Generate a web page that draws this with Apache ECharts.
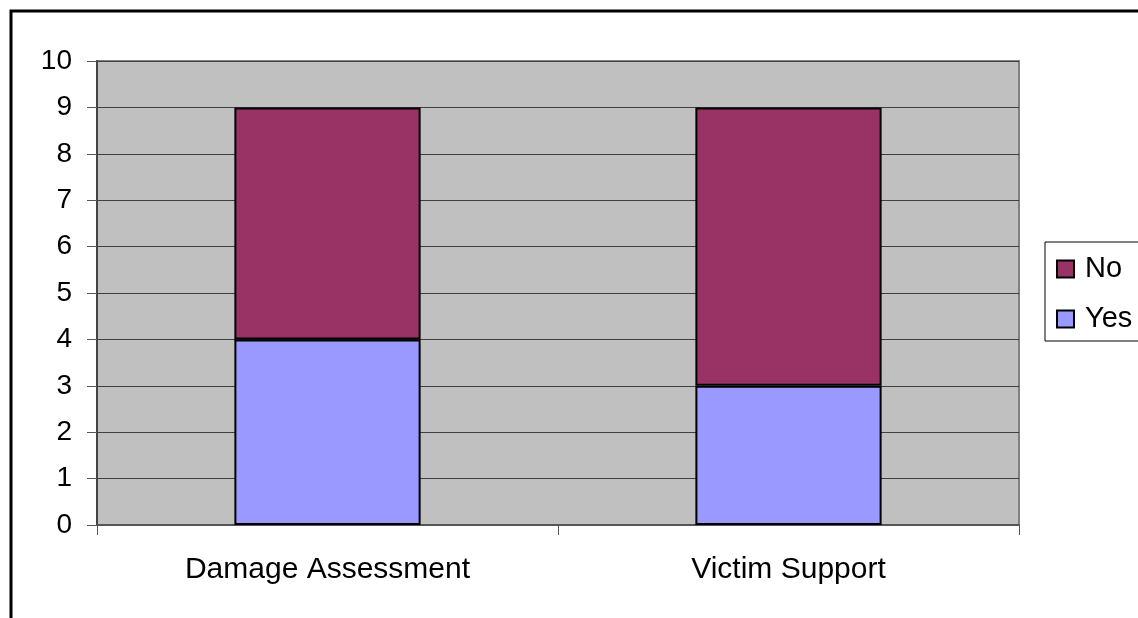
<!DOCTYPE html>
<html>
<head>
<meta charset="utf-8">
<style>
  html, body { margin: 0; padding: 0; background: #fff; }
  #chart { width: 1138px; height: 618px; }
</style>
<script src="https://cdn.jsdelivr.net/npm/echarts@6/dist/echarts.min.js"></script>
</head>
<body>
<div id="chart"></div>
<script>
// Survey responses per function
const categories = ['Damage Assessment', 'Victim Support'];
const yesValues = [4, 3];
const noValues = [5, 6];
const yTicks = { min: 0, max: 10, interval: 1 };

const chart = echarts.init(document.getElementById('chart'), null, { renderer: 'canvas' });
const font = '"Liberation Sans", Arial, sans-serif';

chart.setOption({
  animation: false,
  backgroundColor: '#ffffff',
  textStyle: { fontFamily: font },
  graphic: [{
    type: 'rect',
    shape: { x: 11, y: 11, width: 1300, height: 800 },
    style: { fill: 'none', stroke: '#000', lineWidth: 3 },
    z: 100,
    silent: true
  }],
  grid: {
    left: 97, top: 61, right: 119, bottom: 93,
    show: true,
    backgroundColor: '#c0c0c0',
    borderColor: '#808080',
    borderWidth: 2
  },
  legend: {
    orient: 'vertical',
    left: 1045, top: 242,
    data: ['No', 'Yes'],
    icon: 'rect',
    itemWidth: 17, itemHeight: 17,
    itemGap: 20,
    padding: [12, 40, 7, 11],
    borderColor: '#000', borderWidth: 1,
    textStyle: { fontSize: 29, lineHeight: 30, color: '#000', fontFamily: font, padding: [0, 0, 0, 6] },
    itemStyle: { borderColor: '#000', borderWidth: 2 }
  },
  xAxis: {
    type: 'category',
    data: categories,
    boundaryGap: true,
    axisLine: { show: true, lineStyle: { color: '#555', width: 2 } },
    axisTick: { show: true, length: 10, alignWithLabel: false, lineStyle: { color: '#555', width: 1 } },
    axisLabel: { fontSize: 30, color: '#000', margin: 30, fontFamily: font },
    splitLine: { show: false }
  },
  yAxis: {
    type: 'value',
    min: yTicks.min, max: yTicks.max, interval: yTicks.interval,
    axisLine: { show: true, lineStyle: { color: '#444', width: 2 } },
    axisTick: { show: true, length: 10, lineStyle: { color: '#555', width: 1 } },
    axisLabel: { fontSize: 28, color: '#000', margin: 25, fontFamily: font },
    splitLine: { show: true, lineStyle: { color: '#404040', width: 1 } }
  },
  series: [
    {
      name: 'Yes', type: 'bar', stack: 'total', data: yesValues,
      barWidth: '40.4%',
      itemStyle: { color: '#9999ff', borderColor: '#000', borderWidth: 2 }
    },
    {
      name: 'No', type: 'bar', stack: 'total', data: noValues,
      barWidth: '40.4%',
      itemStyle: { color: '#993366', borderColor: '#000', borderWidth: 2 }
    }
  ]
});
</script>
</body>
</html>
